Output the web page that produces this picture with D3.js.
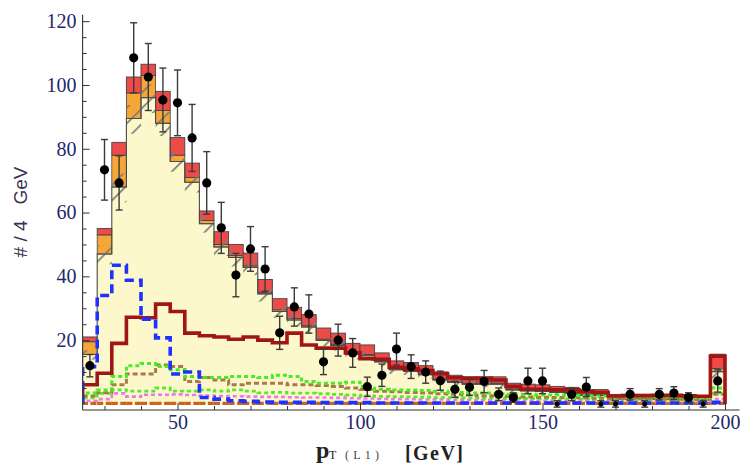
<!DOCTYPE html>
<html><head><meta charset="utf-8">
<script src="https://cdn.jsdelivr.net/npm/d3@7"></script>
<style>body{margin:0;background:#fff}</style>
</head><body><svg id="c" width="746" height="467"></svg>
<script>
// ---- data ----
const binLo = [24,28,32,36,40,44,48,52,56,60,64,68,72,76,80,84,88,92,96,100,104,108,112,116,120,124,128,132,136,140,144,148,152,156,160,164,168,172,176,180,184,188,192,196];
const binWidth = 4;
const stackTotal = [21,55,82,102.5,106.5,98,83.5,75.5,60.5,54,50,47.3,39,33,30.3,28,23.8,22.2,19,18.5,16,13.5,13,12,10,9,8.5,8.5,8.5,6.5,6.2,6,5.5,5.2,4.5,4.5,3,3,3,3,3,3,2.6,15.6];
const redPart = [1.5,2,4,5,3.5,6,5.5,4.5,3,4,3.5,4,4,3.5,3.5,3.5,3.5,3.5,3,3,2.5,2.5,2.5,2.5,2.2,2,2,2,2,1.8,1.8,1.8,1.6,1.6,1.5,1.5,1.2,1.2,1.2,1.2,1.2,1.2,1.1,4.5];
const orangePart = [4,6,10,8,7,4,2,1.5,1,0.8,0.6,0.5,0.5,0.5,0.5,0.4,0.4,0.4,0.4,0.4,0.3,0.3,0.3,0.3,0.3,0.3,0.3,0.3,0.3,0.3,0.3,0.3,0.3,0.3,0.3,0.3,0.3,0.3,0.3,0.3,0.3,0.3,0.3,1];
const sysErr = [2,4,6,6,6,5,4,4,3.5,3.5,3.5,3,3,2.5,2.5,2.5,2.2,2,2,2,1.8,1.6,1.5,1.5,1.3,1.2,1.2,1.2,1.2,1,1,1,1,1,0.9,0.9,0.8,0.8,0.8,0.8,0.8,0.8,0.8,2.5];

const dataX = [26,30,34,38,42,46,50,54,58,62,66,70,74,78,82,86,90,94,98,102,106,110,114,118,122,126,130,134,138,142,146,150,154,158,162,166,170,174,178,182,186,190,194,198];
const dataY = [12,73.4,69.3,108.5,102.5,95.3,94.4,83.4,69.3,55.2,40.4,48.6,42.3,22.3,30.4,28.2,13.2,20,16,5.4,9,17.2,11.7,10,7.3,4.6,5.2,7,3,2,7.2,7.2,0,3,5.3,0,0,3,0,3,3.4,2,0,7.2];
const dataErr = [3.5,9.5,8.5,11,10.5,10,10.3,10.5,9.8,8,6.8,7,7,5.2,6,6,4,5,4.5,3,3.5,5,3.7,3.5,3,2.5,2.5,3.5,2,1.5,4,4,1,2,3,1,1,1.8,1,1.8,2,1.5,1,3.5];

const blueLine = [11.7,34,43.5,38.8,26.6,20.7,9.4,10,2,1.5,1,0.8,0.6,0.5,0.5,0.5,0.4,0.4,0.4,0.4,0.3,0.3,0.3,0.3,0.3,0.3,0.3,0.3,0.3,0.3,0.3,0.3,0.3,0.3,0.3,0.3,0.3,0.3,0.3,0.3,0.3,0.3,0.3,0.5];
const darkRedLine = [6,9.6,19,27.2,27,31.3,29,22.2,21.4,21,20.3,21,20,19.2,22.2,18.5,17.5,17.5,16,14.2,14,11.5,11,10.5,9.5,8.2,8,8,7.5,5.5,4.6,4.6,4.4,4.4,3.8,3.6,2.5,2.6,2.6,2.7,2.7,2.5,2.4,15];
const greenHi = [3.4,4.4,8.6,12,12.7,11.7,10.7,8.6,8.3,8.3,8.6,8.6,8.3,9,8.6,7,6.5,6.5,6.8,5.5,4.6,4.4,4.4,4.2,4,3.6,3.4,3.4,3.2,3,3,2.8,2.8,2.7,2.6,2.5,2.4,2.3,2.3,2.2,2.2,2.1,2,5];
const brownLine = [2.5,3.5,6,9.4,9.4,12.2,11.7,7,8.3,7.5,6,6.5,6.5,6.5,6,6,5.8,5.5,5,4.5,4,3.8,3.6,3.4,3.2,3,2.8,2.6,2.5,2.4,2.2,2.1,2,2,1.9,1.8,1.8,1.7,1.6,1.6,1.5,1.5,1.5,3];
const greenLo = [1.9,3.3,4.4,4,4,5,4,4,4.4,4,4.4,4,3.5,3.6,3.4,3.4,3.2,3,2.8,2.5,2.4,2.3,2.2,2.1,2,2,1.9,1.8,1.8,1.7,1.7,1.6,1.6,1.5,1.5,1.4,1.4,1.3,1.3,1.3,1.2,1.2,1.2,3.4];
const pinkLine = [1,1.5,3.3,2.3,2.9,2.9,3,2.8,2.6,2.5,2.4,2.3,2.2,2.2,2.1,2,2,1.9,1.8,1.7,1.6,1.5,1.5,1.4,1.4,1.3,1.3,1.2,1.2,1.1,1.1,1,1,1,0.9,0.9,0.9,0.8,0.8,0.8,0.8,0.7,0.7,1.5];
const floorLine = [0.2,0.2,0.2,0.2,0.2,0.2,0.2,0.2,0.2,0.2,0.2,0.2,0.2,0.2,0.2,0.2,0.2,0.2,0.2,0.2,0.2,0.2,0.2,0.2,0.2,0.2,0.2,0.2,0.2,0.2,0.2,0.2,0.2,0.2,0.2,0.2,0.2,0.2,0.2,0.2,0.2,0.2,0.2,0.2];

const xMajorTicks = [50,100,150,200];
const xMinorTicks = [30,40,60,70,80,90,110,120,130,140,160,170,180,190];
const yMajorTicks = [20,40,60,80,100,120];
const yMinorTicks = [5,10,15,25,30,35,45,50,55,65,70,75,85,90,95,105,110,115];

// ---- drawing ----
const svg = d3.select("#c");
const x = d3.scaleLinear().domain([24, 204]).range([82.6, 739.6]);
const y = d3.scaleLinear().domain([-1.9, 122]).range([410, 14.8]);

const defs = svg.append("defs");
const pat = defs.append("pattern").attr("id","hatch").attr("patternUnits","userSpaceOnUse")
  .attr("width",11).attr("height",11).attr("patternTransform","rotate(45)");
pat.append("line").attr("x1",0).attr("y1",0).attr("x2",0).attr("y2",11)
  .attr("stroke","#7c7c7c").attr("stroke-width",3.4);
defs.append("clipPath").attr("id","plotclip").append("rect")
  .attr("x",83).attr("y",10).attr("width",660).attr("height",400);

const bins = binLo.map((b,i)=>{
  const top = stackTotal[i];
  const redLo = top - redPart[i];
  const yel = redLo - orangePart[i];
  return {x0:b, x1:b+binWidth, top, redLo, yel, hatchLo: yel - 0.8*sysErr[i], hatchHi: yel + 0.7*sysErr[i]};
});

const g = svg.append("g").attr("clip-path","url(#plotclip)");

// yellow base
g.selectAll("rect.yel").data(bins).join("rect").attr("class","yel")
  .attr("x",d=>x(d.x0)).attr("width",d=>x(d.x1)-x(d.x0))
  .attr("y",d=>y(d.yel)).attr("height",d=>y(0)-y(d.yel))
  .attr("fill","#fcf8cc").attr("stroke","#fcf8cc").attr("stroke-width",0.6);
// orange
g.selectAll("rect.or").data(bins).join("rect").attr("class","or")
  .attr("x",d=>x(d.x0)).attr("width",d=>x(d.x1)-x(d.x0))
  .attr("y",d=>y(d.redLo)).attr("height",d=>y(d.yel)-y(d.redLo))
  .attr("fill","#f6a537").attr("stroke","#444").attr("stroke-width",0.8);
// red
g.selectAll("rect.red").data(bins).join("rect").attr("class","red")
  .attr("x",d=>x(d.x0)).attr("width",d=>x(d.x1)-x(d.x0))
  .attr("y",d=>y(d.top)).attr("height",d=>y(d.redLo)-y(d.top))
  .attr("fill","#ee4a48").attr("stroke","#444").attr("stroke-width",0.9);
// hatch band
g.selectAll("rect.hatch").data(bins).join("rect").attr("class","hatch")
  .attr("x",d=>x(d.x0)).attr("width",d=>x(d.x1)-x(d.x0))
  .attr("y",d=>y(d.hatchHi)).attr("height",d=>y(d.hatchLo)-y(d.hatchHi))
  .attr("fill","url(#hatch)");

// step outline of the yellow stack
const stepPts = (vals)=>{
  const pts=[[binLo[0],0]];
  vals.forEach((v,i)=>{pts.push([binLo[i],v]);pts.push([binLo[i]+binWidth,v]);});
  pts.push([binLo[binLo.length-1]+binWidth,0]);
  return pts;
};
const line = d3.line().x(d=>x(d[0])).y(d=>y(d[1]));
g.append("path").attr("d",line(stepPts(bins.map(b=>b.yel))))
  .attr("fill","none").attr("stroke","#4a4a4a").attr("stroke-width",1.1);

// step lines
const series = [
  {v:floorLine, c:"#c8651b", w:3.2, dash:"6,2.5"},
  {v:pinkLine, c:"#ee77ee", w:2.6, dash:"4,3"},
  {v:greenLo, c:"#55ea30", w:2.8, dash:"4,3"},
  {v:brownLine, c:"#a97a45", w:3, dash:"5,3"},
  {v:greenHi, c:"#44ee22", w:3, dash:"4,3"},
  {v:darkRedLine, c:"#a01616", w:3.6, dash:null},
  {v:blueLine, c:"#1e32ff", w:3.6, dash:"9,5"}
];
series.forEach(s=>{
  g.append("path").attr("d",line(stepPts(s.v))).attr("fill","none")
   .attr("stroke",s.c).attr("stroke-width",s.w)
   .attr("stroke-dasharray",s.dash).attr("stroke-linejoin","miter");
});

// data points
const pts = dataX.map((xx,i)=>({x:xx,y:dataY[i],e:dataErr[i]}));
const pg = svg.append("g");
pg.selectAll("line.eb").data(pts).join("line").attr("class","eb")
  .attr("x1",d=>x(d.x)).attr("x2",d=>x(d.x))
  .attr("y1",d=>y(d.y+d.e)).attr("y2",d=>y(Math.max(d.y-d.e,-1.9)))
  .attr("stroke","#3a3a3a").attr("stroke-width",1.4);
pg.selectAll("line.cap1").data(pts).join("line").attr("class","cap1")
  .attr("x1",d=>x(d.x)-3.5).attr("x2",d=>x(d.x)+3.5)
  .attr("y1",d=>y(d.y+d.e)).attr("y2",d=>y(d.y+d.e))
  .attr("stroke","#3a3a3a").attr("stroke-width",1.4);
pg.selectAll("line.cap2").data(pts.filter(d=>d.y-d.e>-1.9)).join("line").attr("class","cap2")
  .attr("x1",d=>x(d.x)-3.5).attr("x2",d=>x(d.x)+3.5)
  .attr("y1",d=>y(d.y-d.e)).attr("y2",d=>y(d.y-d.e))
  .attr("stroke","#3a3a3a").attr("stroke-width",1.4);
pg.selectAll("circle").data(pts).join("circle")
  .attr("cx",d=>x(d.x)).attr("cy",d=>y(d.y)).attr("r",d=>d.y>0?4.6:2.5)
  .attr("fill","#000");

// axes
const axCol = "#333";
const yAxis = svg.append("g").attr("transform",`translate(${x(24)},0)`)
  .call(d3.axisLeft(y).tickValues(yMajorTicks).tickSize(-7).tickPadding(6).tickFormat(d3.format("d")));
svg.append("g").attr("transform",`translate(${x(24)},0)`)
  .call(d3.axisLeft(y).tickValues(yMinorTicks).tickSize(-4).tickFormat(""))
  .select(".domain").remove();
const xAxis = svg.append("g").attr("transform",`translate(0,${y(-1.9)})`)
  .call(d3.axisBottom(x).tickValues(xMajorTicks).tickSize(-7).tickPadding(5).tickFormat(d3.format("d")));
svg.append("g").attr("transform",`translate(0,${y(-1.9)})`)
  .call(d3.axisBottom(x).tickValues(xMinorTicks).tickSize(-4).tickFormat(""))
  .select(".domain").remove();
svg.selectAll(".domain").attr("stroke",axCol).attr("stroke-width",1.1);
svg.selectAll(".tick line").attr("stroke",axCol).attr("stroke-width",1);
svg.selectAll(".tick text").attr("font-family","'Liberation Serif', serif")
  .attr("font-size",20).attr("fill","#23286a");
yAxis.select(".domain").attr("d",`M0,${y(-1.9)}V${y(122)}`);
xAxis.select(".domain").attr("d",`M${x(24)},0H${x(204)}`);

// axis titles
svg.append("text").attr("transform","translate(27,212) rotate(-90)")
  .attr("text-anchor","middle").attr("font-family","'Liberation Sans', sans-serif")
  .attr("font-size",19).attr("fill","#3a3150")
  .style("white-space","pre").text("# / 4   GeV");

const xl = svg.append("g").attr("fill","#222");
xl.append("text").attr("x",316).attr("y",458).attr("font-family","'Liberation Serif', serif")
  .attr("font-size",24).attr("font-weight","bold").text("p");
xl.append("text").attr("x",329).attr("y",459).attr("font-family","'Liberation Serif', serif")
  .attr("font-size",12).text("T");
xl.append("text").attr("x",345).attr("y",459).attr("font-family","'Liberation Serif', serif")
  .attr("font-size",12).attr("fill","#444").attr("textLength",34).text("(L1)");
xl.append("text").attr("x",405).attr("y",460).attr("font-family","'Liberation Serif', serif")
  .attr("font-size",20).attr("font-weight","bold").attr("textLength",58).text("[GeV]");
</script></body></html>
